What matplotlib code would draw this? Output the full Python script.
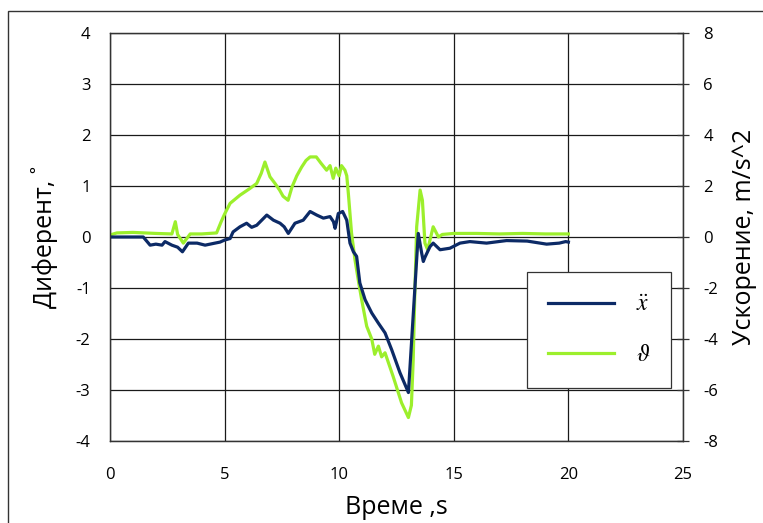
import matplotlib
matplotlib.use('Agg')
import matplotlib.pyplot as plt
from matplotlib.patches import Rectangle

plt.rcParams['font.family'] = ['Open Sans', 'DejaVu Sans']
plt.rcParams['mathtext.fontset'] = 'stix'
plt.rcParams['axes.unicode_minus'] = False

# ----- data ---------------------------------------------------------------

# trim angle, degrees (left axis)
t_trim = [0, 0.3, 1.0, 2.0, 2.7, 2.85, 2.95, 3.2, 3.5, 4.0, 4.65, 4.85, 5.0,
          5.24, 5.67, 6.1, 6.4, 6.6, 6.76, 6.98, 7.2, 7.4, 7.55, 7.77, 7.94,
          8.15, 8.36, 8.55, 8.73, 9.0, 9.2, 9.45, 9.6, 9.74, 9.85, 10.0, 10.1,
          10.25, 10.33, 10.4, 10.54, 10.69, 10.83, 10.98, 11.2, 11.42, 11.55,
          11.71, 11.85, 12.0, 12.35, 12.72, 13.02, 13.15, 13.23, 13.3, 13.38,
          13.53, 13.63, 13.74, 13.86, 14.1, 14.33, 14.5, 15, 16, 17, 18, 19, 20]
trim = [0.04, 0.08, 0.09, 0.07, 0.06, 0.3, 0.05, -0.12, 0.06, 0.06, 0.08, 0.3,
        0.45, 0.66, 0.82, 0.95, 1.05, 1.25, 1.47, 1.18, 1.05, 0.92, 0.8, 0.72,
        0.98, 1.2, 1.37, 1.5, 1.57, 1.57, 1.45, 1.31, 1.4, 1.15, 1.35, 1.2,
        1.4, 1.31, 1.2, 0.85, 0.07, -0.45, -0.84, -1.23, -1.75, -2.0, -2.3,
        -2.14, -2.35, -2.27, -2.73, -3.25, -3.54, -3.3, -2.4, -1.1, 0.2, 0.92,
        0.72, -0.12, -0.25, 0.2, 0.0, 0.05, 0.07, 0.07, 0.06, 0.07, 0.06, 0.06]

# acceleration, m/s^2 (right axis)
t_acc = [0, 1.45, 1.75, 2.0, 2.27, 2.4, 2.7, 2.95, 3.16, 3.42, 3.8, 4.15, 4.58,
         4.8, 5.0, 5.24, 5.37, 5.67, 5.96, 6.18, 6.4, 6.84, 7.13, 7.42, 7.6,
         7.78, 8.07, 8.43, 8.73, 9.02, 9.31, 9.6, 9.75, 9.82, 9.96, 10.15,
         10.33, 10.47, 10.62, 10.76, 10.9, 11.13, 11.42, 11.71, 12.0, 12.29,
         12.65, 13.02, 13.45, 13.6, 13.67, 13.74, 13.96, 14.1, 14.4, 14.83,
         15.27, 15.7, 16.43, 17.3, 18.2, 19.05, 19.6, 19.88, 20.0]
acc = [0.0, 0.0, -0.32, -0.28, -0.32, -0.18, -0.32, -0.4, -0.58, -0.24, -0.24,
       -0.32, -0.24, -0.2, -0.12, -0.06, 0.2, 0.4, 0.54, 0.38, 0.46, 0.86,
       0.66, 0.54, 0.4, 0.14, 0.54, 0.66, 1.0, 0.86, 0.74, 0.8, 0.6, 0.34,
       0.92, 1.0, 0.66, -0.24, -0.58, -0.76, -1.8, -2.46, -2.98, -3.38, -3.76,
       -4.42, -5.32, -6.1, 0.14, -0.64, -0.96, -0.8, -0.38, -0.24, -0.5, -0.44,
       -0.24, -0.18, -0.24, -0.14, -0.16, -0.28, -0.24, -0.18, -0.2]

left_ticks = [-4, -3, -2, -1, 0, 1, 2, 3, 4]
right_ticks = [-8, -6, -4, -2, 0, 2, 4, 6, 8]
x_ticks = [0, 5, 10, 15, 20, 25]

navy = '#0c2a66'
lime = '#9cef2c'

# ----- figure -------------------------------------------------------------
fig = plt.figure(figsize=(7.63, 5.23), dpi=100)
ax = fig.add_axes([110/763, 82/523, 573/763, 408/523])
ax2 = ax.twinx()

ax.plot(t_trim, trim, color=lime, lw=2.3, label=r'$\vartheta$')
ax2.plot(t_acc, acc, color=navy, lw=2.3, label=r'$\ddot{x}$')

ax.set_xlim(0, 25)
ax.set_ylim(-4, 4)
ax2.set_ylim(-8, 8)
ax.set_xticks(x_ticks)
ax.set_yticks(left_ticks)
ax2.set_yticks(right_ticks)
ax.grid(True, color='#1a1a1a', lw=0.9)
ax.set_axisbelow(True)

ax.tick_params(axis='both', length=0, labelsize=12)
ax.tick_params(axis='y', pad=14)
ax.tick_params(axis='x', pad=19)
ax2.tick_params(axis='y', direction='inout', length=9, width=0.9,
                color='#333333', labelsize=12, pad=10)
for a in (ax, ax2):
    for s in a.spines.values():
        s.set_color('#333333')
        s.set_linewidth(0.9)

ax.set_xlabel('Време ,s', fontsize=18)
ax.set_ylabel('Диферент, ˚', fontsize=18)
ax2.set_ylabel('Ускорение, m/s^2', fontsize=18)
ax.xaxis.set_label_coords(0.5, -0.132)
ax.yaxis.set_label_coords(-0.09, 0.5)
ax2.yaxis.set_label_coords(1.086, 0.5)

# legend box in lower right
handles = ax2.get_lines() + ax.get_lines()
leg = ax2.legend(handles, [h.get_label() for h in handles],
                 loc='upper left', bbox_to_anchor=(527/763, 1 - 272/523),
                 bbox_transform=fig.transFigure, fontsize=17, frameon=True,
                 fancybox=False, framealpha=1, edgecolor='#333333',
                 handlelength=2.8, handletextpad=0.9, labelspacing=1.1,
                 borderpad=0.9, borderaxespad=0)
leg.get_frame().set_linewidth(0.9)

# outer frame around the chart
fig.patches.append(Rectangle((8/763, -0.1), 1.2, 1.1 - 11/523,
                             transform=fig.transFigure, fill=False,
                             edgecolor='#333333', lw=1.0))

fig.savefig('out.png', dpi=100)
